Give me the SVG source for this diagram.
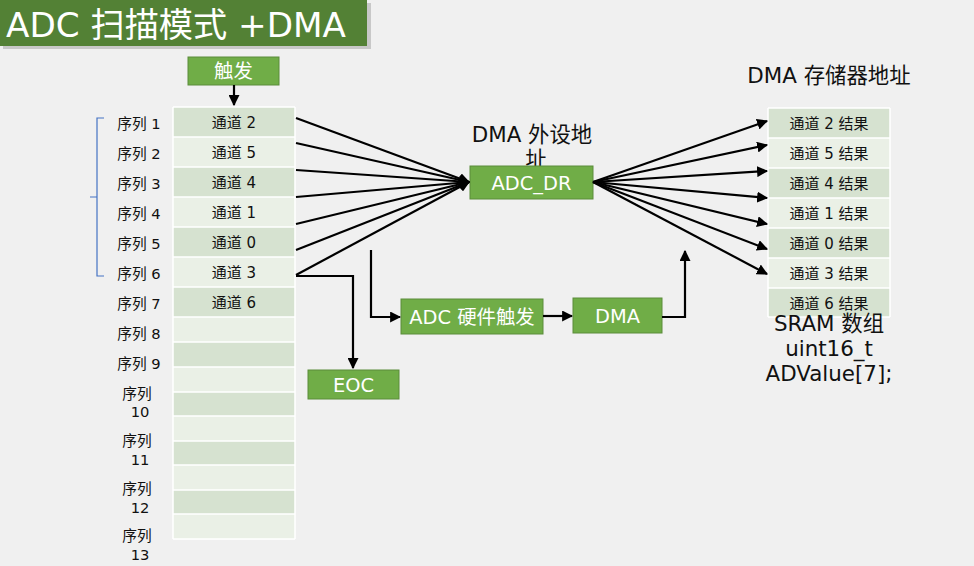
<svg xmlns="http://www.w3.org/2000/svg" width="974" height="566" viewBox="0 0 974 566">
<defs>
<marker id="ah" viewBox="0 0 10 10" refX="9" refY="5" markerWidth="5" markerHeight="5" orient="auto-start-reverse" markerUnits="strokeWidth"><path d="M0,0 L10,5 L0,10 z" fill="#000"/></marker>
<style>
.bg{fill:#f0f0f0}
.gbox{fill:#70ad47;stroke:#5b8c3a;stroke-width:1}
.gt{font-family:"DejaVu Sans","Noto Sans CJK SC",sans-serif;font-size:19.4px;fill:#fff;text-anchor:middle;dominant-baseline:central}
.dk{fill:#d6e2d0}
.lt{fill:#eaf0e6}
.ct{font-family:"DejaVu Sans","Noto Sans CJK SC",sans-serif;font-size:15px;fill:#111;text-anchor:middle;dominant-baseline:central}
.lb{font-family:"DejaVu Sans","Noto Sans CJK SC",sans-serif;font-size:14.7px;fill:#111;text-anchor:middle}
.bt{font-family:"DejaVu Sans","Noto Sans CJK SC",sans-serif;font-size:21.4px;fill:#111;text-anchor:middle}
.ln{fill:none;stroke:#000;stroke-width:2.2}
.sep{stroke:#fff;stroke-width:1.5}
</style>
</defs>
<rect class="bg" x="0" y="0" width="974" height="566"/>
<g id="title">
<rect x="3" y="3" width="368" height="46" fill="#c8c8c8"/>
<rect x="0" y="0" width="367" height="46" fill="#538135"/>
<text x="6" y="37" font-family="DejaVu Sans,'Noto Sans CJK SC',sans-serif" font-size="34.2" fill="#fff">ADC 扫描模式 +DMA</text>
</g>
<g id="trigger">
<rect class="gbox" x="188" y="57" width="91" height="28"/>
<text class="gt" x="233.5" y="71" font-size="18">触发</text>
</g>
<g id="bracket">
<path d="M104,118 H97 V276 H104 M97,197 H90" fill="none" stroke="#4472c4" stroke-width="1.2"/>
</g>
<g id="seq-table">
<rect class="dk" x="173" y="107" width="122" height="30"/>
<rect class="lt" x="173" y="137" width="122" height="30"/>
<rect class="dk" x="173" y="167" width="122" height="30"/>
<rect class="lt" x="173" y="197" width="122" height="30"/>
<rect class="dk" x="173" y="227" width="122" height="30"/>
<rect class="lt" x="173" y="257" width="122" height="30"/>
<rect class="dk" x="173" y="287" width="122" height="30"/>
<rect class="lt" x="173" y="317" width="122" height="25"/>
<rect class="dk" x="173" y="342" width="122" height="25"/>
<rect class="lt" x="173" y="367" width="122" height="25"/>
<rect class="dk" x="173" y="392" width="122" height="24"/>
<rect class="lt" x="173" y="416" width="122" height="25"/>
<rect class="dk" x="173" y="441" width="122" height="24"/>
<rect class="lt" x="173" y="465" width="122" height="25"/>
<rect class="dk" x="173" y="490" width="122" height="24"/>
<rect class="lt" x="173" y="514" width="122" height="25"/>
<path class="sep" d="M173,137H295M173,167H295M173,197H295M173,227H295M173,257H295M173,287H295M173,317H295M173,342H295M173,367H295M173,392H295M173,416H295M173,441H295M173,465H295M173,490H295M173,514H295M173,539H295M173,107H295M173,107V539M295,107V539"/>
<text class="ct" x="234" y="123">通道 2</text>
<text class="ct" x="234" y="153">通道 5</text>
<text class="ct" x="234" y="183">通道 4</text>
<text class="ct" x="234" y="213">通道 1</text>
<text class="ct" x="234" y="243">通道 0</text>
<text class="ct" x="234" y="273">通道 3</text>
<text class="ct" x="234" y="303">通道 6</text>
</g>
<g id="seq-labels">
<text class="lb" x="139" y="129">序列 1</text>
<text class="lb" x="139" y="159">序列 2</text>
<text class="lb" x="139" y="189">序列 3</text>
<text class="lb" x="139" y="219">序列 4</text>
<text class="lb" x="139" y="249">序列 5</text>
<text class="lb" x="139" y="279">序列 6</text>
<text class="lb" x="139" y="309">序列 7</text>
<text class="lb" x="139" y="339">序列 8</text>
<text class="lb" x="139" y="369">序列 9</text>
<text class="lb" x="137" y="399">序列</text><text class="lb" x="140" y="417">10</text>
<text class="lb" x="137" y="446">序列</text><text class="lb" x="140" y="465">11</text>
<text class="lb" x="137" y="494">序列</text><text class="lb" x="140" y="513">12</text>
<text class="lb" x="137" y="541">序列</text><text class="lb" x="140" y="560">13</text>
</g>
<g id="adc-dr">
<text class="bt" x="532" y="142">DMA 外设地</text>
<text class="bt" x="536" y="167">址</text>
<rect class="gbox" x="470" y="166" width="123" height="33"/>
<text class="gt" x="531.5" y="183">ADC_DR</text>
</g>
<g id="eoc">
<rect class="gbox" x="308" y="370" width="91" height="29"/>
<text class="gt" x="353.5" y="385">EOC</text>
</g>
<g id="adc-hw">
<rect class="gbox" x="401" y="299" width="142" height="35"/>
<text class="gt" x="472" y="317">ADC 硬件触发</text>
</g>
<g id="dma">
<rect class="gbox" x="573" y="298" width="89" height="35"/>
<text class="gt" x="617.5" y="316">DMA</text>
</g>
<g id="mem-table">
<text class="bt" x="829" y="83">DMA 存储器地址</text>
<rect class="dk" x="768" y="108" width="122" height="30"/>
<rect class="lt" x="768" y="138" width="122" height="30"/>
<rect class="dk" x="768" y="168" width="122" height="30"/>
<rect class="lt" x="768" y="198" width="122" height="30"/>
<rect class="dk" x="768" y="228" width="122" height="30"/>
<rect class="lt" x="768" y="258" width="122" height="30"/>
<rect class="dk" x="768" y="288" width="122" height="29"/>
<path class="sep" d="M768,108H890M768,138H890M768,168H890M768,198H890M768,228H890M768,258H890M768,288H890M768,317H890M768,108V317M890,108V317"/>
<text class="ct" x="829" y="124">通道 2 结果</text>
<text class="ct" x="829" y="154">通道 5 结果</text>
<text class="ct" x="829" y="184">通道 4 结果</text>
<text class="ct" x="829" y="214">通道 1 结果</text>
<text class="ct" x="829" y="244">通道 0 结果</text>
<text class="ct" x="829" y="274">通道 3 结果</text>
<text class="ct" x="829" y="304">通道 6 结果</text>
<text class="bt" x="829" y="331">SRAM 数组</text>
<text class="bt" x="829" y="356">uint16_t</text>
<text class="bt" x="829" y="381">ADValue[7];</text>
</g>
<g id="connectors">
<path class="ln" d="M234,85 V105" marker-end="url(#ah)"/>
<path class="ln" d="M296,118 L469,182" marker-end="url(#ah)"/>
<path class="ln" d="M296,143 L469,182" marker-end="url(#ah)"/>
<path class="ln" d="M296,170 L469,182" marker-end="url(#ah)"/>
<path class="ln" d="M296,197 L469,182" marker-end="url(#ah)"/>
<path class="ln" d="M296,224 L469,182" marker-end="url(#ah)"/>
<path class="ln" d="M296,250 L469,182" marker-end="url(#ah)"/>
<path class="ln" d="M296,275 L469,182" marker-end="url(#ah)"/>
<path class="ln" d="M296,276 H353 V368" marker-end="url(#ah)"/>
<path class="ln" d="M371,250 V317 H400" marker-end="url(#ah)"/>
<path class="ln" d="M543,316 H572" marker-end="url(#ah)"/>
<path class="ln" d="M662,317 H685 V251" marker-end="url(#ah)"/>
<path class="ln" d="M593,182 L767,121" marker-end="url(#ah)"/>
<path class="ln" d="M593,182 L767,145" marker-end="url(#ah)"/>
<path class="ln" d="M593,182 L767,171" marker-end="url(#ah)"/>
<path class="ln" d="M593,182 L767,198" marker-end="url(#ah)"/>
<path class="ln" d="M593,182 L767,224" marker-end="url(#ah)"/>
<path class="ln" d="M593,182 L767,249" marker-end="url(#ah)"/>
<path class="ln" d="M593,182 L767,274" marker-end="url(#ah)"/>
</g>
</svg>
